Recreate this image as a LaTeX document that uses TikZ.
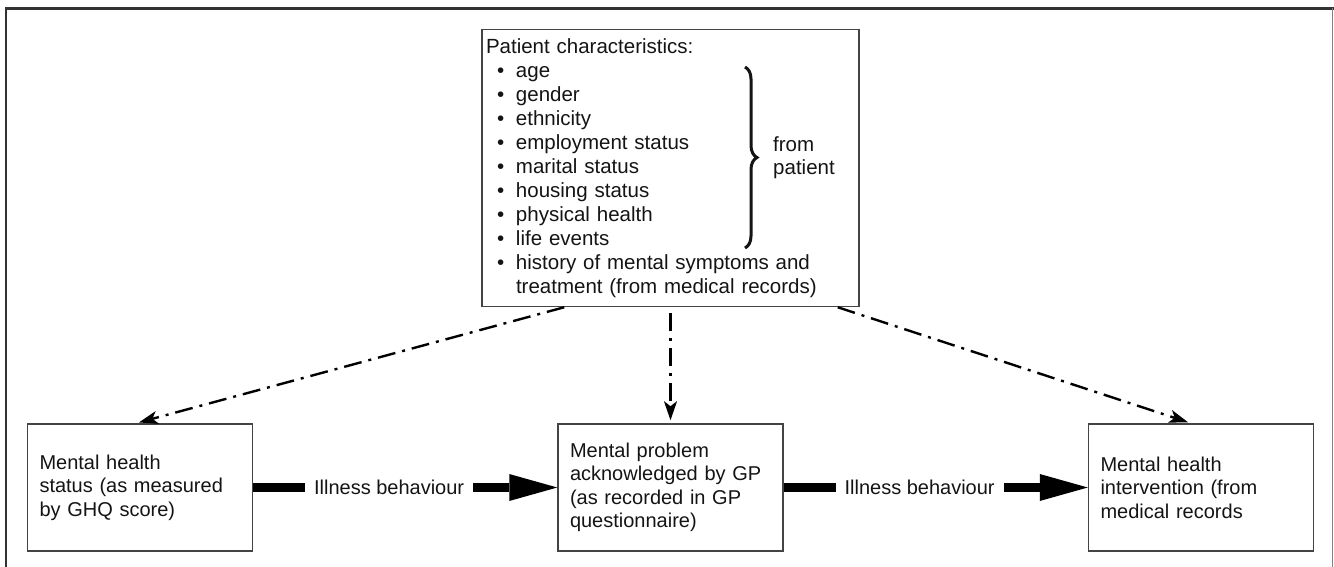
\documentclass[tikz,border=0pt]{standalone}
\usepackage{fontspec}
\setmainfont{Liberation Sans}
\usetikzlibrary{arrows.meta,positioning,calc,decorations.pathreplacing}
\definecolor{boxgray}{HTML}{444444}
\definecolor{txt}{HTML}{141414}
\definecolor{framegray}{HTML}{333333}
\tikzstyle{pcbox}=[draw=boxgray,line width=1.5pt,inner sep=4pt,text width=369pt,
                minimum height=277pt,align=left,text=txt,font=\fontsize{20.5}{24}\selectfont]
\tikzstyle{statebox}=[draw=boxgray,line width=1.5pt,inner xsep=12pt,text width=201pt,
                minimum height=127pt,align=left,text=txt,font=\fontsize{20}{23.5}\selectfont]
\tikzstyle{influence}=[line width=2.4pt,dash pattern=on 18pt off 7pt on 3pt off 7pt,
                -{Stealth[length=19pt,width=13pt,inset=5pt]}]
\tikzstyle{behav}=[line width=9pt,-{Triangle[length=48pt,width=27pt,line width=0pt]}]
\tikzstyle{behavlabel}=[fill=white,inner xsep=9pt,text=txt,pos=0.447,
                font=\fontsize{20}{24}\selectfont]
\newcommand{\pitem}[1]{\makebox[30pt][l]{\hspace{11pt}\textbullet}#1}
\newcommand{\pcont}[1]{\hspace{30pt}#1}

\begin{document}
\begin{tikzpicture}[x=1pt,y=-1pt]
  \useasboundingbox (0,0) rectangle (1334,567);
  % frame
  \draw[framegray,line width=2.5pt] (6,567) -- (6,8.5) -- (1334,8.5);
  \draw[gray,line width=1pt] (1332.8,8.5) -- (1332.8,567);

  \node[statebox] (mp) at (670.5,487.5) {Mental problem\\acknowledged by GP\\(as recorded in GP\\questionnaire)};
  \node[statebox,left=304pt of mp] (mh) {Mental health\\status (as measured\\by GHQ score)};
  \node[statebox,right=304pt of mp] (mi) {Mental health\\intervention (from\\medical records};
  \node[pcbox,above=116pt of mp] (pc) {Patient characteristics:\\
    \pitem{age}\\
    \pitem{gender}\\
    \pitem{ethnicity}\\
    \pitem{employment status}\\
    \pitem{marital status}\\
    \pitem{housing status}\\
    \pitem{physical health}\\
    \pitem{life events}\\
    \pitem{history of mental symptoms and}\\
    \pcont{treatment (from medical records)}};

  % brace
  \coordinate (brt) at (745,67);
  \coordinate (brb) at (745,248);
  \draw[txt,line width=3pt,decorate,decoration={brace,amplitude=12pt}] (brt) -- (brb);
  \node[anchor=west,align=left,inner sep=0pt,text=txt,font=\fontsize{20.5}{23}\selectfont]
     (fp) at ($(brt)!0.5!(brb)+(28,0)$) {from\\patient};

  % influences
  \draw[influence,shorten >=3pt] ([xshift=83pt]pc.south west) -- ([xshift=-4pt]mh.north);
  \draw[influence,shorten <=6pt,shorten >=3pt] (pc.south) -- (mp.north);
  \draw[influence,shorten >=3pt] ([xshift=-22pt]pc.south east) -- ([xshift=-10pt]mi.north);

  % illness behaviour
  \draw[behav] (mh.east) -- (mp.west) node[behavlabel] {Illness behaviour};
  \draw[behav] (mp.east) -- (mi.west) node[behavlabel] {Illness behaviour};
\end{tikzpicture}
\end{document}
